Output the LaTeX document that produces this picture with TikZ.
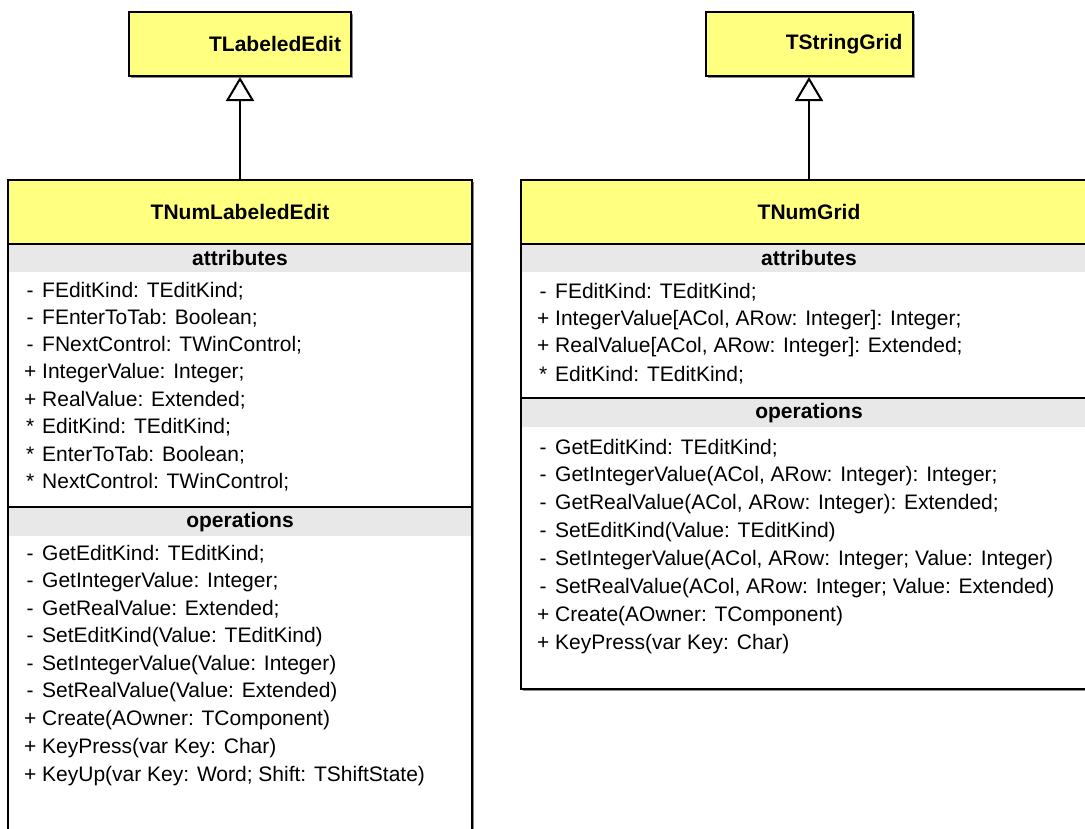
\documentclass[tikz,border=0pt]{standalone}
\usepackage{fontspec}
\setmainfont{Liberation Sans}
\usetikzlibrary{arrows.meta}
\definecolor{umlyellow}{RGB}{255,255,128}
\definecolor{bandgray}{RGB}{232,232,232}
\definecolor{shadowgray}{RGB}{140,140,140}
\tikzset{
  txt/.style={font=\fontsize{21}{25}\selectfont},
  boldtxt/.style={font=\fontsize{21}{25}\selectfont\bfseries},
  basebox/.style={boldtxt, draw, line width=2pt, fill=umlyellow, inner xsep=10pt,
    minimum height=64pt, align=right},
  classtitle/.style={boldtxt, draw, line width=2pt, fill=umlyellow, minimum height=64pt},
  classline/.style={line width=2pt},
  band/.style={fill=bandgray},
  bandtitle/.style={boldtxt, inner sep=0pt},
  member/.style={txt, anchor=west, inner sep=0pt},
  inherit/.style={line width=2pt, -{Triangle[width=28pt, length=24pt, fill=white]}},
}
\newcommand\pfx[1]{\makebox[16pt][c]{#1}\hspace{4pt}}
\begin{document}
\begin{tikzpicture}[x=1pt, y=-1pt]
\useasboundingbox (0,0) rectangle (1085,828);
\clip (0,0) rectangle (1085,828);

% shadows under the boxes
\fill[shadowgray] (131,14) rectangle (353,78);
\fill[shadowgray] (708,14) rectangle (915,78);
\fill[shadowgray] (10,182) rectangle (474,900);
\fill[shadowgray] (523,182) rectangle (1099,691);

% base classes
\node[basebox, text width=202pt] (tle) at (240,44) {TLabeledEdit};
\node[basebox, text width=187pt] (tsg) at (809,44) {TStringGrid};

% ---------------- TNumLabeledEdit ----------------
\draw[classline, fill=white] (8,180) rectangle (472,900);
\fill[band] (9,245) rectangle (471,272);
\fill[band] (9,508) rectangle (471,536);
\draw[classline] (8,507) -- (472,507);
\node[classtitle, minimum width=464pt] (numle) at (240,212) {TNumLabeledEdit};
\node[bandtitle] (lattr) at (240,258) {attributes};
\node[bandtitle] (lops) at (240,522) {operations};
\foreach \p/\t [count=\i from 0] in {
  -/{FEditKind: TEditKind;},
  -/{FEnterToTab: Boolean;},
  -/{FNextControl: TWinControl;},
  +/{IntegerValue: Integer;},
  +/{RealValue: Extended;},
  */{EditKind: TEditKind;},
  */{EnterToTab: Boolean;},
  */{NextControl: TWinControl;}}
  \node[member] (la\i) at (22,{291+27.3*\i}) {\pfx{\p}\t};
\foreach \p/\t [count=\i from 0] in {
  -/{GetEditKind: TEditKind;},
  -/{GetIntegerValue: Integer;},
  -/{GetRealValue: Extended;},
  -/{SetEditKind(Value: TEditKind)},
  -/{SetIntegerValue(Value: Integer)},
  -/{SetRealValue(Value: Extended)},
  +/{Create(AOwner: TComponent)},
  +/{KeyPress(var Key: Char)},
  +/{KeyUp(var Key: Word; Shift: TShiftState)}}
  \node[member] (lo\i) at (22,{554+27.7*\i}) {\pfx{\p}\t};

% ---------------- TNumGrid ----------------
\draw[classline, fill=white] (521,180) rectangle (1097,689);
\fill[band] (522,245) rectangle (1096,272);
\fill[band] (522,399) rectangle (1096,427);
\draw[classline] (521,398) -- (1097,398);
\node[classtitle, minimum width=576pt] (numgrid) at (809,212) {TNumGrid};
\node[bandtitle] (rattr) at (809,258) {attributes};
\node[bandtitle] (rops) at (809,413) {operations};
\foreach \p/\t [count=\i from 0] in {
  -/{FEditKind: TEditKind;},
  +/{IntegerValue[ACol, ARow: Integer]: Integer;},
  +/{RealValue[ACol, ARow: Integer]: Extended;},
  */{EditKind: TEditKind;}}
  \node[member] (ra\i) at (535,{292+27.6*\i}) {\pfx{\p}\t};
\foreach \p/\t [count=\i from 0] in {
  -/{GetEditKind: TEditKind;},
  -/{GetIntegerValue(ACol, ARow: Integer): Integer;},
  -/{GetRealValue(ACol, ARow: Integer): Extended;},
  -/{SetEditKind(Value: TEditKind)},
  -/{SetIntegerValue(ACol, ARow: Integer; Value: Integer)},
  -/{SetRealValue(ACol, ARow: Integer; Value: Extended)},
  +/{Create(AOwner: TComponent)},
  +/{KeyPress(var Key: Char)}}
  \node[member] (ro\i) at (535,{448+28*\i}) {\pfx{\p}\t};

% generalisation arrows
\draw[inherit] (numle.north) -- (tle.south);
\draw[inherit] (numgrid.north) -- (tsg.south);
\end{tikzpicture}
\end{document}
